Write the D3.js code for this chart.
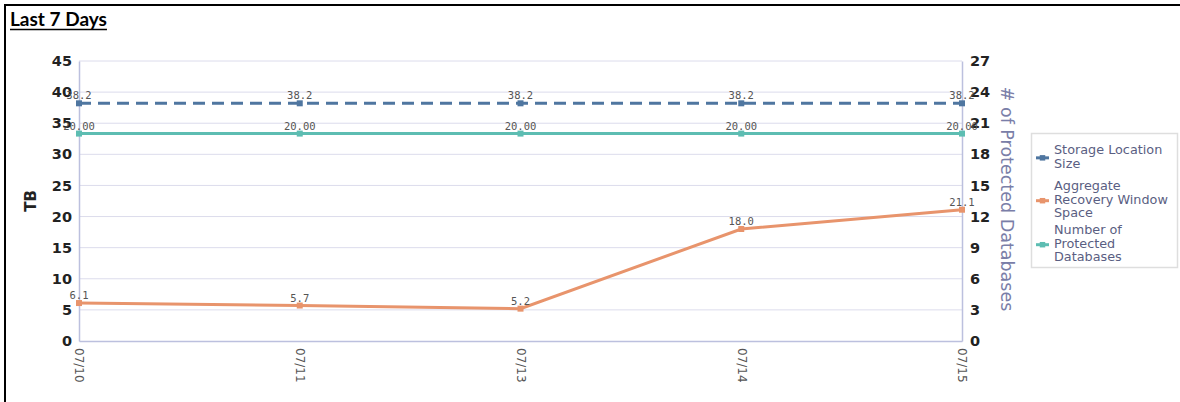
<!DOCTYPE html>
<html><head><meta charset="utf-8">
<script src="https://cdn.jsdelivr.net/npm/d3@7"></script>
<style>
html,body{margin:0;padding:0;background:#fff;}
svg{display:block;}
</style></head>
<body>
<svg id="c" width="1180" height="402"></svg>
<script>
const categories = ["07/10","07/11","07/13","07/14","07/15"];
const storageSize = [38.2,38.2,38.2,38.2,38.2];
const recoverySpace = [6.1,5.7,5.2,18.0,21.1];
const protectedDbs = [20,20,20,20,20];
const leftTicks = [0,5,10,15,20,25,30,35,40,45];
const rightTicks = [0,3,6,9,12,15,18,21,24,27];
const legendNames = [["Storage Location","Size"],["Aggregate","Recovery Window","Space"],["Number of","Protected","Databases"]];
const colors = ["#4f76a0","#e8946c","#5dbdb2"];

const svg = d3.select("#c");
const L = 79, R = 962, T = 61, B = 341;
const x = d3.scalePoint().domain(categories).range([L,R]);
const yL = d3.scaleLinear().domain([0,45]).range([B,T]);
const yR = d3.scaleLinear().domain([0,27]).range([B,T]);

// frame
svg.append("line").attr("x1",4).attr("x2",1180).attr("y1",5).attr("y2",5).attr("stroke","#000").attr("stroke-width",2);
svg.append("line").attr("x1",5).attr("x2",5).attr("y1",4).attr("y2",402).attr("stroke","#000").attr("stroke-width",2);

// title
const title = svg.append("text").attr("x",10).attr("y",26).text("Last 7 Days")
  .attr("font-family","Lato, 'Open Sans', sans-serif").attr("font-weight","bold").attr("font-size",19).attr("fill","#000");
const tw = title.node().getComputedTextLength();
svg.append("line").attr("x1",10).attr("x2",10+tw).attr("y1",29.5).attr("y2",29.5).attr("stroke","#000").attr("stroke-width",1.6);

// grid
svg.append("g").selectAll("line").data(leftTicks.slice(1)).join("line")
  .attr("x1",L).attr("x2",R).attr("y1",d=>yL(d)).attr("y2",d=>yL(d))
  .attr("stroke","#dcdcec").attr("stroke-width",1);

// axes
const axL = svg.append("g").attr("transform",`translate(${L},0)`).call(d3.axisLeft(yL).tickValues(leftTicks).tickSize(0).tickPadding(7));
const axR = svg.append("g").attr("transform",`translate(${R},0)`).call(d3.axisRight(yR).tickValues(rightTicks).tickSize(0).tickPadding(8));
const axB = svg.append("g").attr("transform",`translate(0,${B})`).call(d3.axisBottom(x).tickSize(0).tickPadding(0));
[axL,axR,axB].forEach(a=>a.select(".domain").attr("stroke","#bcc0de").attr("stroke-width",1.5));
[axL,axR].forEach(a=>a.selectAll("text").attr("font-family","'DejaVu Sans', sans-serif").attr("font-weight","bold").attr("font-size",14.5).attr("fill","#222"));
axB.selectAll("text").attr("font-family","'DejaVu Sans', sans-serif").attr("font-size",12).attr("fill","#555")
  .attr("text-anchor","start").attr("dy","0.35em").attr("transform","translate(0,7) rotate(90)").attr("x",0).attr("y",0);

// axis titles
svg.append("text").attr("transform","translate(36,201) rotate(-90)").attr("text-anchor","middle")
  .attr("font-family","'DejaVu Sans', sans-serif").attr("font-weight","bold").attr("font-size",15).attr("fill","#222").text("TB");
svg.append("text").attr("transform","translate(1001,199) rotate(90)").attr("text-anchor","middle")
  .attr("font-family","'DejaVu Sans', sans-serif").attr("font-size",17.5).attr("fill","#7a7ea8").text("# of Protected Databases");

// series
const series = [
  {vals:storageSize, y:yL, color:colors[0], dash:"12,7", fmt:d=>d.toFixed(1)},
  {vals:recoverySpace, y:yL, color:colors[1], dash:null, fmt:d=>d.toFixed(1)},
  {vals:protectedDbs, y:yR, color:colors[2], dash:null, fmt:d=>d.toFixed(2)}
];
const line = (s)=>d3.line().x((d,i)=>x(categories[i])).y(d=>s.y(d));
series.forEach(s=>{
  svg.append("path").datum(s.vals).attr("d",line(s)).attr("fill","none")
    .attr("stroke",s.color).attr("stroke-width",3).attr("stroke-dasharray",s.dash);
  svg.append("g").selectAll("path").data(s.vals).join("path")
    .attr("d",d3.symbol(d3.symbolSquare,36))
    .attr("transform",(d,i)=>`translate(${x(categories[i])},${s.y(d)})`).attr("fill",s.color);
  svg.append("g").selectAll("text").data(s.vals).join("text")
    .attr("x",(d,i)=>x(categories[i])).attr("y",d=>s.y(d)-4).attr("text-anchor","middle")
    .attr("font-family","'DejaVu Sans Mono', monospace").attr("font-size",10.5).attr("fill","#555")
    .text(s.fmt);
});

// legend
svg.append("rect").attr("x",1031.5).attr("y",133.5).attr("width",146).attr("height",134)
  .attr("fill","#fff").attr("stroke","#dedede").attr("stroke-width",1.5);
const lineStarts = [150,186,230];
legendNames.forEach((names,k)=>{
  const y0 = lineStarts[k];
  const mid = y0 + (names.length-1)*13.7/2;
  svg.append("line").attr("x1",1036).attr("x2",1049).attr("y1",mid+1).attr("y2",mid+1).attr("stroke",colors[k]).attr("stroke-width",3);
  svg.append("path").attr("d",d3.symbol(d3.symbolSquare,30)).attr("transform",`translate(1042.5,${mid+1})`).attr("fill",colors[k]);
  names.forEach((n,j)=>{
    svg.append("text").attr("x",1054).attr("y",y0+j*13.7+4).text(n)
      .attr("font-family","'DejaVu Sans', sans-serif").attr("font-size",12.8).attr("fill","#5a5e82");
  });
});
</script>
</body></html>
